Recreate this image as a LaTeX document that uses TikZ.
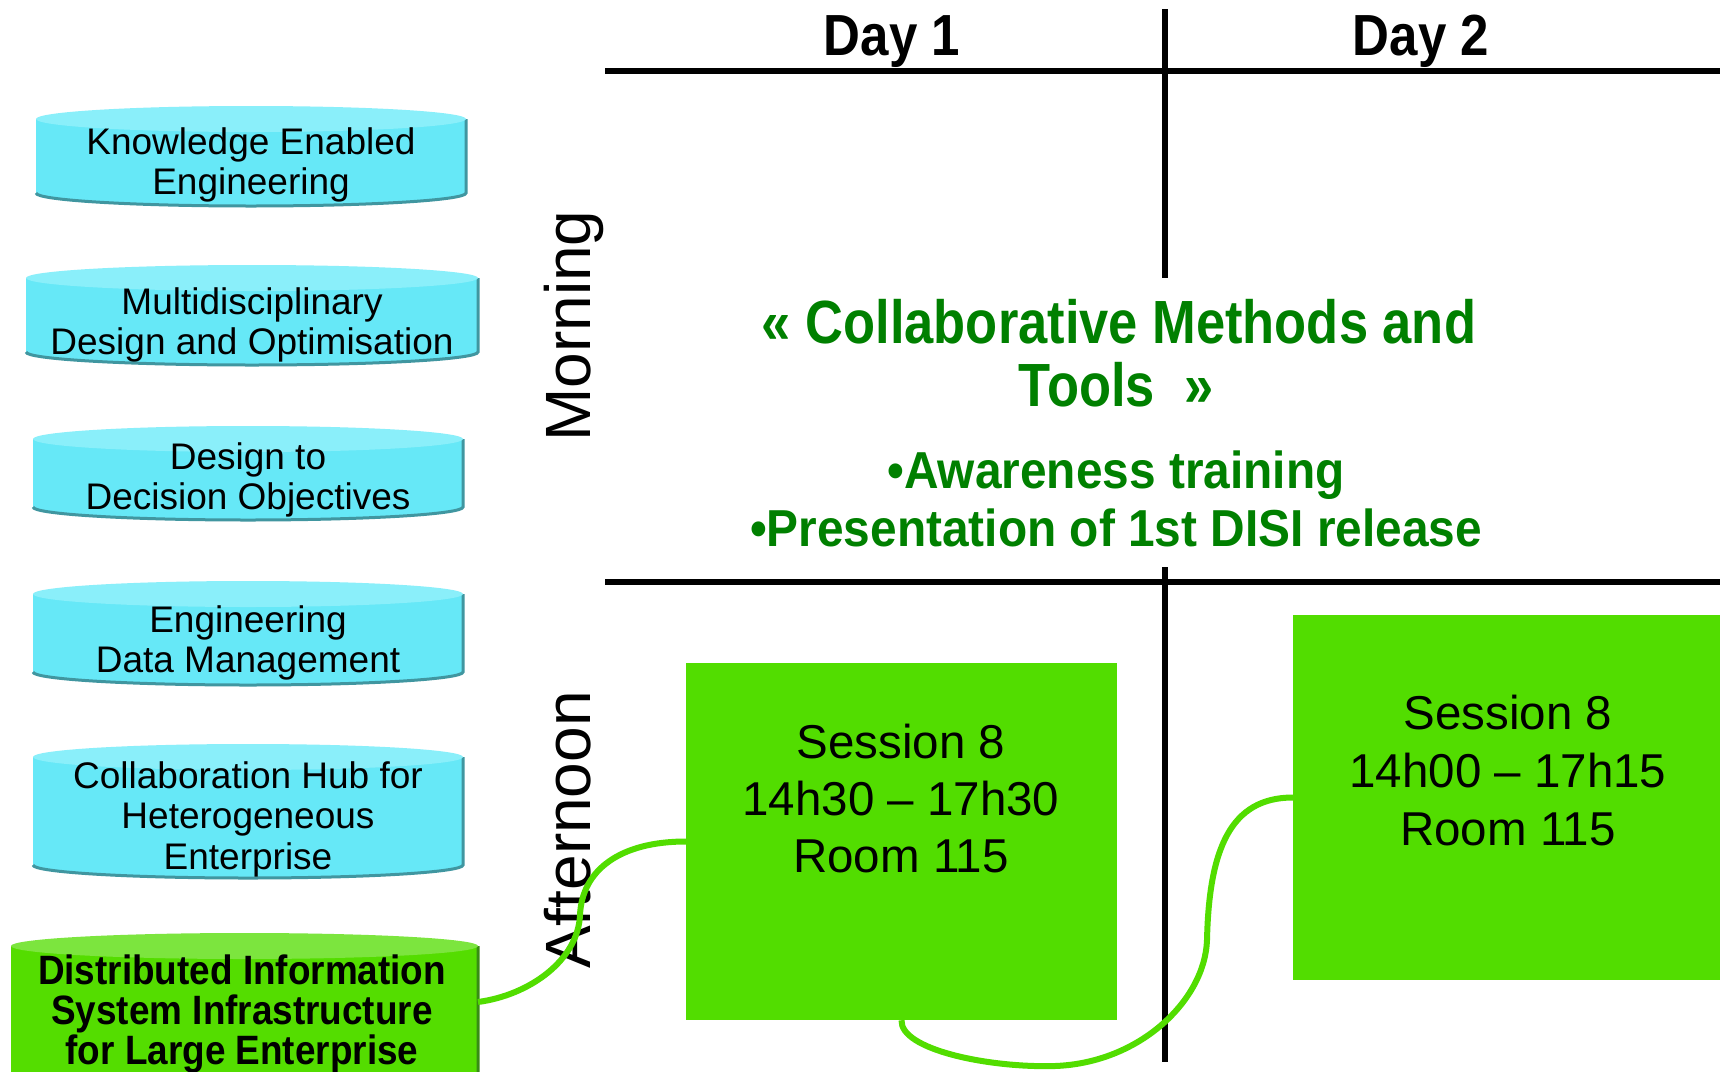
\documentclass[tikz,border=0pt]{standalone}
\usepackage{fontspec}
\setmainfont{Liberation Sans}
\newfontfamily\boldA[FakeStretch=0.88]{Liberation Sans}
\newfontfamily\boldB[FakeStretch=0.86]{Liberation Sans}
\newfontfamily\boldC[FakeStretch=0.92]{Liberation Sans}
\newfontfamily\boldD[FakeStretch=0.90]{Liberation Sans}
\definecolor{cylbody}{RGB}{102,232,247}
\definecolor{cyltop}{RGB}{138,239,250}
\definecolor{cyledge}{RGB}{64,150,160}
\definecolor{gbody}{RGB}{84,221,0}
\definecolor{gtop}{RGB}{124,229,62}
\definecolor{gedge}{RGB}{56,140,20}
\definecolor{boxgreen}{RGB}{82,221,0}
\definecolor{txtgreen}{RGB}{0,128,0}
\newcommand{\mycyl}[7]{%
  \pgfmathsetmacro{\mycx}{(#1+#2)/2}%
  \pgfmathsetmacro{\myrx}{(#2-#1)/2}%
  \fill[#5] (#1,#3) -- (#1,#4) arc[start angle=180,end angle=360,x radius=\myrx pt,y radius=13pt] -- (#2,#3) -- cycle;
  \draw[#7,line width=3pt] (#1,#4) arc[start angle=180,end angle=360,x radius=\myrx pt,y radius=13pt] -- (#2,#3);
  \fill[#6] (\mycx,#3) ellipse[x radius=\myrx pt,y radius=13pt];
}
\begin{document}
\begin{tikzpicture}[x=1pt,y=-1pt,
  cyltext/.style={align=center,inner sep=0pt,font=\fontsize{37}{40.5}\selectfont},
  cylbold/.style={align=center,inner sep=0pt,font=\boldD\bfseries\fontsize{41}{40}\selectfont},
  gridline/.style={line width=6.5pt,black},
  dayhdr/.style={anchor=base,inner sep=0pt,font=\boldA\bfseries\fontsize{58}{60}\selectfont},
  period/.style={anchor=base,rotate=90,inner sep=0pt,font=\fontsize{64}{66}\selectfont},
  titletext/.style={anchor=base,inner sep=0pt,text=txtgreen,font=\boldB\bfseries\fontsize{61}{64}\selectfont},
  bullettext/.style={anchor=base,inner sep=0pt,text=txtgreen,font=\boldC\bfseries\fontsize{52}{58}\selectfont},
  sbox/.style={fill=boxgreen,draw=none,inner sep=0pt},
  stext/.style={anchor=base,inner sep=0pt,font=\fontsize{47.5}{57}\selectfont},
  conn/.style={draw=boxgreen,line width=6pt}]
\useasboundingbox (0,0) rectangle (1720,1071);
\fill[white] (0,0) rectangle (1720,1071);

% grid
\draw[gridline] (605,71) -- (1720,71);
\draw[gridline] (605,582) -- (1720,582);
\draw[gridline] (1165,9) -- (1165,278);
\draw[gridline] (1165,567) -- (1165,1062);

% headers
\node[dayhdr] (d1) at (892,55) {Day 1};
\node[dayhdr] (d2) at (1421,55) {Day 2};
\node[period] (morning) at (590,326) {Morning};
\node[period] (afternoon) at (590,830) {Afternoon};

% cylinders
\mycyl{36}{466}{119}{193}{cylbody}{cyltop}{cyledge}
\node[cyltext] (t1) at (251,165) {Knowledge Enabled\\Engineering};
\mycyl{26}{478}{278}{352}{cylbody}{cyltop}{cyledge}
\node[cyltext] (t2) at (252,325) {Multidisciplinary\\Design and Optimisation};
\mycyl{33}{463}{439}{507}{cylbody}{cyltop}{cyledge}
\node[cyltext] (t3) at (248,480) {Design to\\Decision Objectives};
\mycyl{33}{463}{594}{672}{cylbody}{cyltop}{cyledge}
\node[cyltext] (t4) at (248,643) {Engineering\\Data Management};
\mycyl{33}{463}{757}{865}{cylbody}{cyltop}{cyledge}
\node[cyltext] (t5) at (248,819) {Collaboration Hub for\\Heterogeneous\\Enterprise};
\mycyl{11}{478}{946}{1110}{gbody}{gtop}{gedge}
\node[cylbold] (t6) at (242,1014) {Distributed Information\\System Infrastructure\\for Large Enterprise};
\coordinate (c6e) at (478,1002);

% morning block
\node[titletext] (ti1) at (1119,343) {« Collaborative Methods and};
\node[titletext] (ti2) at (1116,406) {Tools~~»};
\node[bullettext] (b1) at (1116,488) {•Awareness training};
\node[bullettext] (b2) at (1116,546) {•Presentation of 1st DISI release};

% sessions
\node[sbox,minimum width=431pt,minimum height=357pt] (s1) at (901.5,841.5) {};
\node[sbox,minimum width=430pt,minimum height=365pt] (s2) at (1508,797.5) {};
\node[stext] (s1a) at (901,758) {Session 8};
\node[stext] (s1b) at (901,815) {14h30 – 17h30};
\node[stext] (s1c) at (901,872) {Room 115};
\node[stext] (s2a) at (1508,729) {Session 8};
\node[stext] (s2b) at (1508,787) {14h00 – 17h15};
\node[stext] (s2c) at (1508,845) {Room 115};

% connectors
\draw[conn] (c6e) .. controls (530,995) and (578,960) .. (580,915)
  .. controls (582,870) and (620,841.5) .. (s1.west);
\draw[conn] (s1.south) .. controls (900,1050) and (990,1068) .. (1055,1066)
  .. controls (1140,1063) and (1205,1000) .. (1207,940)
  .. controls (1209,850) and (1230,797.5) .. (s2.west);
\end{tikzpicture}
\end{document}
